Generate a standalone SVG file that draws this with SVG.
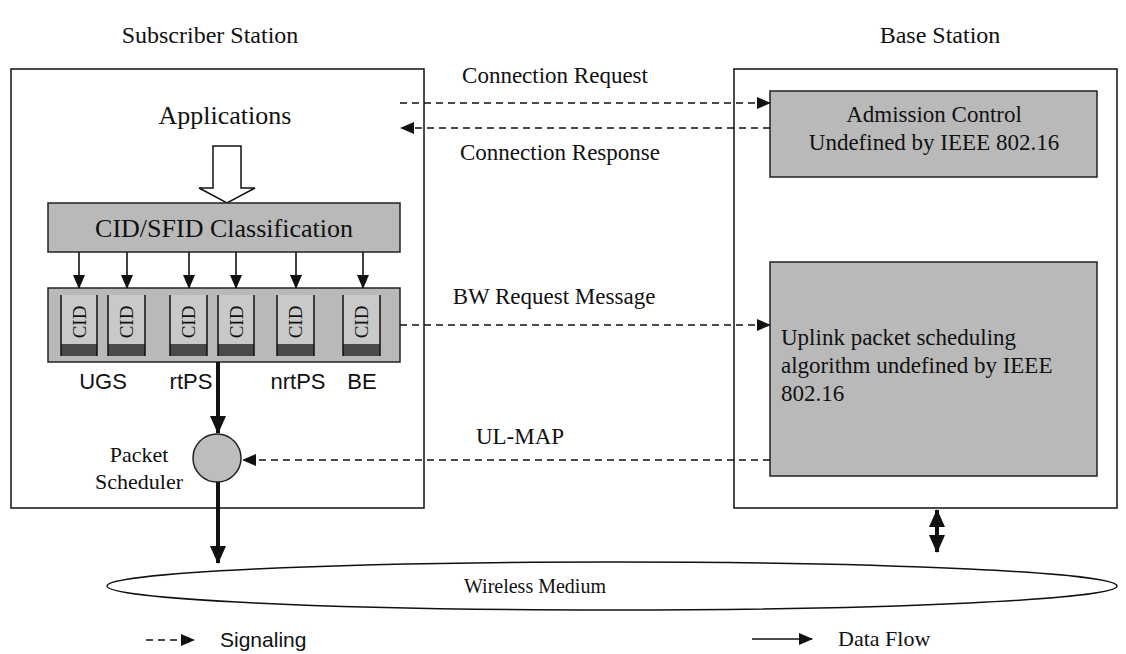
<svg xmlns="http://www.w3.org/2000/svg" width="1126" height="654" viewBox="0 0 1126 654">
  <defs>
    <marker id="head" markerUnits="userSpaceOnUse" markerWidth="14" markerHeight="12" refX="13" refY="6" orient="auto">
      <path d="M0,0 L14,6 L0,12 Z" fill="#111"/>
    </marker>
    <marker id="bigHead" markerUnits="userSpaceOnUse" markerWidth="18" markerHeight="16" refX="17" refY="8" orient="auto">
      <path d="M0,0 L18,8 L0,16 Z" fill="#111"/>
    </marker>
    <marker id="bigHeadStart" markerUnits="userSpaceOnUse" markerWidth="18" markerHeight="16" refX="1" refY="8" orient="auto">
      <path d="M18,0 L0,8 L18,16 Z" fill="#111"/>
    </marker>
  </defs>
  <style>
    .serif { font-family: "Liberation Serif", "Times New Roman", serif; fill: #111; }
    .sans { font-family: "Liberation Sans", Arial, sans-serif; fill: #111; }
    .frame { fill: #fff; stroke: #111; stroke-width: 1.5; }
    .shaded { fill: #b9b9b9; stroke: #222; stroke-width: 1.5; }
    .sig { fill: none; stroke: #111; stroke-width: 1.6; stroke-dasharray: 7 5; }
    .flow { fill: none; stroke: #111; stroke-width: 1.6; }
    .thick { fill: none; stroke: #111; stroke-width: 4; }
    .qwall { fill: none; stroke: #111; stroke-width: 1.5; }
    .cid { font-family: "Liberation Serif", "Times New Roman", serif; fill: #111; font-size: 19px; text-anchor: middle; }
  </style>

  <rect width="1126" height="654" fill="#fff"/>

  <!-- station headings -->
  <text class="serif" x="210" y="43" font-size="24" text-anchor="middle">Subscriber Station</text>
  <text class="serif" x="940" y="43" font-size="24" text-anchor="middle">Base Station</text>

  <!-- subscriber station frame -->
  <g id="subscriber-station">
    <rect class="frame" x="11" y="69" width="413" height="439"/>
  </g>

  <!-- base station frame -->
  <g id="base-station">
    <rect class="frame" x="734" y="69" width="383" height="439"/>
  </g>

  <g id="applications">
    <text class="serif" x="225" y="124" font-size="26" text-anchor="middle">Applications</text>
    <path d="M213,146 L241,146 L241,188 L255,188 L227,203 L199,188 L213,188 Z" fill="#fff" stroke="#111" stroke-width="1.5"/>
  </g>

  <g id="classification">
    <rect class="shaded" x="48" y="203" width="352" height="49"/>
    <text class="serif" x="224" y="237" font-size="26" text-anchor="middle">CID/SFID Classification</text>
  </g>

  <g id="queues">
    <rect class="shaded" x="48" y="288" width="352" height="74"/>
    <g id="q1">
      <rect x="61" y="295" width="36" height="61" fill="#c9c9c9"/>
      <rect x="61" y="344" width="36" height="12" fill="#4a4a4a"/>
      <path class="qwall" d="M61,295 V356 M97,295 V356"/>
      <text class="cid" transform="translate(85.5,322) rotate(-90)">CID</text>
    </g>
    <g id="q2">
      <rect x="108" y="295" width="37" height="61" fill="#c9c9c9"/>
      <rect x="108" y="344" width="37" height="12" fill="#4a4a4a"/>
      <path class="qwall" d="M108,295 V356 M145,295 V356"/>
      <text class="cid" transform="translate(133,322) rotate(-90)">CID</text>
    </g>
    <g id="q3">
      <rect x="170" y="295" width="37" height="61" fill="#c9c9c9"/>
      <rect x="170" y="344" width="37" height="12" fill="#4a4a4a"/>
      <path class="qwall" d="M170,295 V356 M207,295 V356"/>
      <text class="cid" transform="translate(195,322) rotate(-90)">CID</text>
    </g>
    <g id="q4">
      <rect x="218" y="295" width="36" height="61" fill="#c9c9c9"/>
      <rect x="218" y="344" width="36" height="12" fill="#4a4a4a"/>
      <path class="qwall" d="M218,295 V356 M254,295 V356"/>
      <text class="cid" transform="translate(242.5,322) rotate(-90)">CID</text>
    </g>
    <g id="q5">
      <rect x="277" y="295" width="37" height="61" fill="#c9c9c9"/>
      <rect x="277" y="344" width="37" height="12" fill="#4a4a4a"/>
      <path class="qwall" d="M277,295 V356 M314,295 V356"/>
      <text class="cid" transform="translate(302,322) rotate(-90)">CID</text>
    </g>
    <g id="q6">
      <rect x="343" y="295" width="37" height="61" fill="#c9c9c9"/>
      <rect x="343" y="344" width="37" height="12" fill="#4a4a4a"/>
      <path class="qwall" d="M343,295 V356 M380,295 V356"/>
      <text class="cid" transform="translate(368,322) rotate(-90)">CID</text>
    </g>
  </g>

  <g id="service-classes">
    <text class="sans" x="103" y="389" font-size="22" text-anchor="middle">UGS</text>
    <text class="sans" x="191" y="389" font-size="22" text-anchor="middle">rtPS</text>
    <text class="sans" x="298" y="389" font-size="22" text-anchor="middle">nrtPS</text>
    <text class="sans" x="362" y="389" font-size="22" text-anchor="middle">BE</text>
  </g>

  <g id="packet-scheduler">
    <circle cx="217" cy="458" r="24" fill="#bdbdbd" stroke="#222" stroke-width="1.5"/>
    <text class="serif" x="139" y="462" font-size="22" text-anchor="middle">Packet</text>
    <text class="serif" x="139" y="489" font-size="22" text-anchor="middle">Scheduler</text>
  </g>

  <g id="admission-control">
    <rect class="shaded" x="770" y="91" width="327" height="86"/>
    <text class="serif" x="934" y="122" font-size="23" text-anchor="middle">Admission Control</text>
    <text class="serif" x="934" y="150" font-size="23" text-anchor="middle">Undefined by IEEE 802.16</text>
  </g>

  <g id="uplink-scheduler">
    <rect class="shaded" x="770" y="262" width="327" height="214"/>
    <text class="serif" x="781" y="345" font-size="23">Uplink packet scheduling</text>
    <text class="serif" x="781" y="373" font-size="23">algorithm undefined by IEEE</text>
    <text class="serif" x="781" y="401" font-size="23">802.16</text>
  </g>

  <g id="wireless-medium">
    <ellipse cx="612" cy="586" rx="505" ry="24" fill="#fff" stroke="#111" stroke-width="1.5"/>
    <text class="serif" x="535" y="593" font-size="20" text-anchor="middle">Wireless Medium</text>
  </g>

  <!-- connectors -->
  <g id="connectors">
    <!-- classification to queues -->
    <path class="flow" d="M79,252 V288" marker-end="url(#head)"/>
    <path class="flow" d="M127,252 V288" marker-end="url(#head)"/>
    <path class="flow" d="M189,252 V288" marker-end="url(#head)"/>
    <path class="flow" d="M236,252 V288" marker-end="url(#head)"/>
    <path class="flow" d="M296,252 V288" marker-end="url(#head)"/>
    <path class="flow" d="M363,252 V288" marker-end="url(#head)"/>

    <!-- data path through the scheduler -->
    <path class="thick" d="M218,362 V433" marker-end="url(#bigHead)"/>
    <path class="thick" d="M218,482 V563" marker-end="url(#bigHead)"/>

    <!-- signaling -->
    <path class="sig" d="M400,103 H770" marker-end="url(#head)"/>
    <text class="serif" x="555" y="83" font-size="23" text-anchor="middle">Connection Request</text>
    <path class="sig" d="M770,128 H401" marker-end="url(#head)"/>
    <text class="serif" x="560" y="160" font-size="23" text-anchor="middle">Connection Response</text>
    <path class="sig" d="M400,325 H770" marker-end="url(#head)"/>
    <text class="serif" x="554" y="304" font-size="23" text-anchor="middle">BW Request Message</text>
    <path class="sig" d="M770,460 H243" marker-end="url(#head)"/>
    <text class="serif" x="520" y="444" font-size="23" text-anchor="middle">UL-MAP</text>

    <!-- base station to air interface -->
    <path class="thick" d="M937,510 V552" stroke-width="3" marker-start="url(#bigHeadStart)" marker-end="url(#bigHead)"/>
  </g>

  <!-- legend -->
  <g id="legend">
    <path class="sig" d="M146,640 H194" marker-end="url(#head)"/>
    <text class="sans" x="220" y="647" font-size="21">Signaling</text>
    <path class="flow" d="M752,639 H812" marker-end="url(#head)"/>
    <text class="serif" x="838" y="646" font-size="22">Data Flow</text>
  </g>
</svg>
